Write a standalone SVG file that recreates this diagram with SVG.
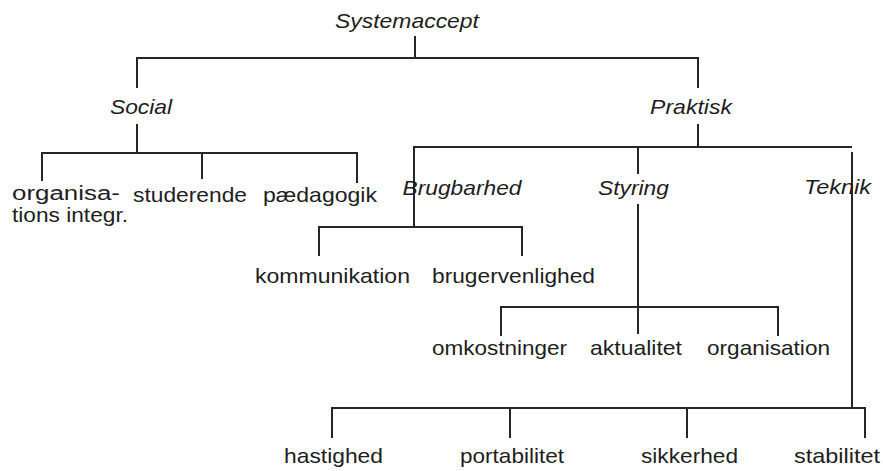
<svg xmlns="http://www.w3.org/2000/svg" width="883" height="471" viewBox="0 0 883 471">
<style>
text{font-family:"Liberation Sans",Arial,sans-serif;font-size:21px;fill:#1e1e1e;text-anchor:middle}
.i{font-style:italic}
.l{text-anchor:start;font-size:20px}
#connectors line{stroke:#262626;stroke-width:2;stroke-linecap:square}
</style>
<rect width="883" height="471" fill="#fff"/>
<g id="connectors">
<line x1="415" y1="37" x2="415" y2="58"/>
<line x1="137" y1="58" x2="698" y2="58"/>
<line x1="137" y1="58" x2="137" y2="87"/>
<line x1="698" y1="58" x2="698" y2="87"/>
<line x1="137" y1="125" x2="137" y2="153"/>
<line x1="42" y1="153" x2="357" y2="153"/>
<line x1="42" y1="153" x2="42" y2="180"/>
<line x1="202" y1="153" x2="202" y2="178"/>
<line x1="357" y1="153" x2="357" y2="182"/>
<line x1="698" y1="125" x2="698" y2="147"/>
<line x1="414" y1="147" x2="851" y2="147"/>
<line x1="414" y1="147" x2="414" y2="227"/>
<line x1="638" y1="147" x2="638" y2="173"/>
<line x1="852" y1="153" x2="852" y2="408"/>
<line x1="319" y1="227" x2="522" y2="227"/>
<line x1="319" y1="227" x2="319" y2="255"/>
<line x1="522" y1="227" x2="522" y2="255"/>
<line x1="638" y1="205" x2="638" y2="333"/>
<line x1="501" y1="307" x2="778" y2="307"/>
<line x1="501" y1="307" x2="501" y2="335"/>
<line x1="778" y1="307" x2="778" y2="335"/>
<line x1="332" y1="408" x2="865" y2="408"/>
<line x1="332" y1="408" x2="332" y2="437"/>
<line x1="510" y1="408" x2="510" y2="437"/>
<line x1="687" y1="408" x2="687" y2="437"/>
<line x1="865" y1="408" x2="865" y2="437"/>
</g>
<g id="systemaccept"><text class="i" x="407" y="28" textLength="144" lengthAdjust="spacingAndGlyphs">Systemaccept</text></g>
<g id="social"><text class="i" x="141" y="114" textLength="62" lengthAdjust="spacingAndGlyphs">Social</text></g>
<g id="praktisk"><text class="i" x="691" y="114" textLength="82" lengthAdjust="spacingAndGlyphs">Praktisk</text></g>
<g id="organisationsintegr"><text class="l" x="12" y="200" textLength="108" lengthAdjust="spacingAndGlyphs">organisa-</text><text class="l" x="12" y="222" textLength="116" lengthAdjust="spacingAndGlyphs">tions integr.</text></g>
<g id="studerende"><text x="190" y="202" textLength="114" lengthAdjust="spacingAndGlyphs">studerende</text></g>
<g id="paedagogik"><text x="320" y="202" textLength="114" lengthAdjust="spacingAndGlyphs">pædagogik</text></g>
<g id="brugbarhed"><text class="i" x="462" y="195" textLength="119" lengthAdjust="spacingAndGlyphs">Brugbarhed</text></g>
<g id="styring"><text class="i" x="633.5" y="195" textLength="71" lengthAdjust="spacingAndGlyphs">Styring</text></g>
<g id="teknik"><text class="i" x="837.5" y="194" textLength="67" lengthAdjust="spacingAndGlyphs">Teknik</text></g>
<g id="kommunikation"><text x="332.5" y="283" textLength="155" lengthAdjust="spacingAndGlyphs">kommunikation</text></g>
<g id="brugervenlighed"><text x="513.5" y="283" textLength="163" lengthAdjust="spacingAndGlyphs">brugervenlighed</text></g>
<g id="omkostninger"><text x="499.5" y="355" textLength="135" lengthAdjust="spacingAndGlyphs">omkostninger</text></g>
<g id="aktualitet"><text x="636" y="355" textLength="92" lengthAdjust="spacingAndGlyphs">aktualitet</text></g>
<g id="organisation"><text x="768.5" y="355" textLength="123" lengthAdjust="spacingAndGlyphs">organisation</text></g>
<g id="hastighed"><text x="333.5" y="463" textLength="99" lengthAdjust="spacingAndGlyphs">hastighed</text></g>
<g id="portabilitet"><text x="512" y="463" textLength="104" lengthAdjust="spacingAndGlyphs">portabilitet</text></g>
<g id="sikkerhed"><text x="689.5" y="463" textLength="97" lengthAdjust="spacingAndGlyphs">sikkerhed</text></g>
<g id="stabilitet"><text x="837" y="463" textLength="86" lengthAdjust="spacingAndGlyphs">stabilitet</text></g>
</svg>
